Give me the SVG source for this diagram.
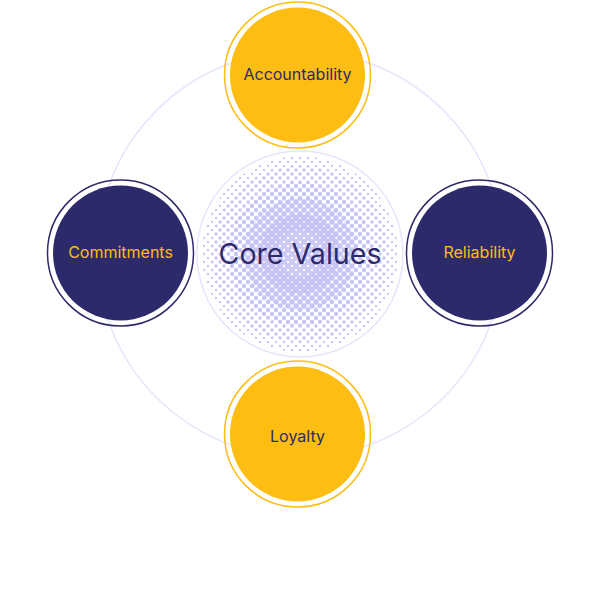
<svg xmlns="http://www.w3.org/2000/svg" width="600" height="592" viewBox="0 0 600 592">
<style>
.ring{fill:none;stroke-width:1.5}
.lbl{font-family:Inter,"Noto Sans",sans-serif;font-size:16px;font-weight:400;text-anchor:middle;dominant-baseline:central}
.navyT{fill:#2d2a6b}
.yelT{fill:#fdbd12}
.dot{fill:#c8c5f6}
</style>
<defs>
<pattern id="p13" width="8" height="8" patternUnits="userSpaceOnUse" x="300" y="254"><g class="dot"><circle cx="0" cy="0" r="1.2"/><circle cx="8" cy="0" r="1.2"/><circle cx="0" cy="8" r="1.2"/><circle cx="8" cy="8" r="1.2"/><circle cx="4" cy="4" r="1.2"/></g></pattern>
<pattern id="p18" width="8" height="8" patternUnits="userSpaceOnUse" x="300" y="254"><g class="dot"><circle cx="0" cy="0" r="1.7"/><circle cx="8" cy="0" r="1.7"/><circle cx="0" cy="8" r="1.7"/><circle cx="8" cy="8" r="1.7"/><circle cx="4" cy="4" r="1.7"/></g></pattern>
<pattern id="p23" width="8" height="8" patternUnits="userSpaceOnUse" x="300" y="254"><g class="dot"><circle cx="0" cy="0" r="2.2"/><circle cx="8" cy="0" r="2.2"/><circle cx="0" cy="8" r="2.2"/><circle cx="8" cy="8" r="2.2"/><circle cx="4" cy="4" r="2.2"/></g></pattern>
<pattern id="p28" width="8" height="8" patternUnits="userSpaceOnUse" x="300" y="254"><g class="dot"><circle cx="0" cy="0" r="2.7"/><circle cx="8" cy="0" r="2.7"/><circle cx="0" cy="8" r="2.7"/><circle cx="8" cy="8" r="2.7"/><circle cx="4" cy="4" r="2.7"/></g></pattern>
<pattern id="p34" width="8" height="8" patternUnits="userSpaceOnUse" x="300" y="254"><g class="dot"><circle cx="0" cy="0" r="3.3"/><circle cx="8" cy="0" r="3.3"/><circle cx="0" cy="8" r="3.3"/><circle cx="8" cy="8" r="3.3"/><circle cx="4" cy="4" r="3.3"/></g></pattern>
<pattern id="pw" width="8" height="8" patternUnits="userSpaceOnUse" x="304" y="254"><g fill="#ffffff"><circle cx="0" cy="0" r="1.2"/><circle cx="8" cy="0" r="1.2"/><circle cx="0" cy="8" r="1.2"/><circle cx="8" cy="8" r="1.2"/><circle cx="4" cy="4" r="1.2"/></g></pattern>
</defs>
<rect width="600" height="592" fill="#ffffff"/>
<g id="connectors">
<circle cx="300" cy="254" r="203" fill="none" stroke="#e7e5fb" stroke-width="1.5"/>
</g>
<g id="core">
<circle cx="300" cy="254" r="103" fill="#ffffff" stroke="#e7e5fb" stroke-width="1.5"/>
<circle cx="300" cy="254" r="98" fill="url(#p13)"/>
<circle cx="300" cy="254" r="88" fill="url(#p18)"/>
<circle cx="300" cy="254" r="72" fill="url(#p23)"/>
<circle cx="300" cy="254" r="56" fill="url(#p28)"/>
<circle cx="300" cy="254" r="40" fill="url(#p34)"/>
<circle cx="300" cy="254" r="24" fill="#ccc9f7"/>
<circle cx="300" cy="254" r="24" fill="url(#pw)"/>
<text x="300" y="253" font-family="Inter,'Noto Sans',sans-serif" font-size="28.6" fill="#2d2a6b" text-anchor="middle" dominant-baseline="central">Core Values</text>
</g>
<g id="accountability">
<circle cx="297.5" cy="75" r="73" class="ring" stroke="#fdbd12"/>
<circle cx="297.5" cy="75" r="67.5" fill="#fdbd12"/>
<text x="297.5" y="74" class="lbl navyT">Accountability</text>
</g>
<g id="commitments">
<circle cx="120.5" cy="253" r="73" class="ring" stroke="#2d2a6b"/>
<circle cx="120.5" cy="253" r="67.5" fill="#2d2a6b"/>
<text x="120.5" y="252" class="lbl yelT">Commitments</text>
</g>
<g id="reliability">
<circle cx="479.5" cy="253" r="73" class="ring" stroke="#2d2a6b"/>
<circle cx="479.5" cy="253" r="67.5" fill="#2d2a6b"/>
<text x="479.5" y="252" class="lbl yelT">Reliability</text>
</g>
<g id="loyalty">
<circle cx="297.5" cy="434" r="73" class="ring" stroke="#fdbd12"/>
<circle cx="297.5" cy="434" r="67.5" fill="#fdbd12"/>
<text x="297.5" y="436" class="lbl navyT">Loyalty</text>
</g>
</svg>
